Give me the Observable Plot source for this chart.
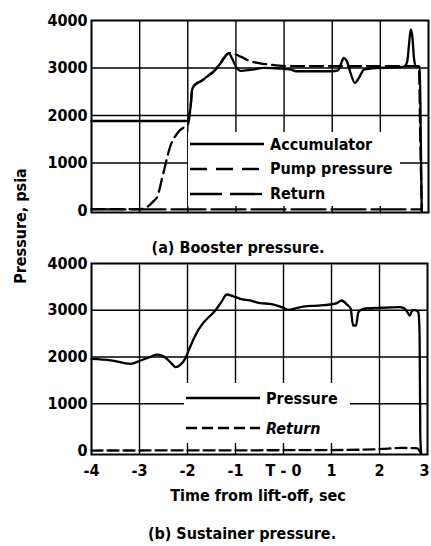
<!DOCTYPE html>
<html>
<head>
<meta charset="utf-8">
<script src="https://cdn.jsdelivr.net/npm/d3@7"></script>
<script src="https://cdn.jsdelivr.net/npm/@observablehq/plot@0.6"></script>
<style>
  body { margin: 0; background: #fff; }
  #wrap { position: relative; width: 431px; height: 546px; overflow: hidden;
    font-family: "Liberation Sans Narrow", "DejaVu Sans Condensed", "Liberation Sans", sans-serif; color: #000; font-weight: bold; }
  .abs { position: absolute; white-space: nowrap; }
  .cap { font-size: 16px; transform: translate(-50%, -50%); }
  .ylab { font-size: 16px; transform: translate(-50%, -50%) rotate(-90deg); }
  .legend { background: #fff; }
  .legend .row { display: flex; align-items: center; font-size: 16px; white-space: nowrap; }
  .legend svg { display: block; margin-right: 6px; flex: none; }
</style>
</head>
<body>
<div id="wrap"></div>
<script>
// ---------- data ----------
const secTicks = [-4, -3, -2, -1, 0, 1, 2, 3];
const secTickLabels = ["-4", "-3", "-2", "-1", "T - 0", "1", "2", "3"];
const gridSec = [-3, -2, -1, 0, 1, 2];
const psiTicks = [0, 1000, 2000, 3000, 4000];
const gridPsi = [1000, 2000, 3000];

// (a) Booster pressure
const boosterAccT = [-4, -2.04, -2.0, -1.97, -1.94, -1.91, -1.85, -1.73, -1.6, -1.46, -1.32, -1.22, -1.15, -1.08, -1.0, -0.9, -0.7, -0.42, -0.1, 0.14, 0.25, 0.6, 1.0, 1.12, 1.18, 1.24, 1.3, 1.38, 1.47, 1.56, 1.66, 1.9, 2.2, 2.5, 2.56, 2.6, 2.63, 2.66, 2.7, 2.74, 2.82, 2.84, 2.86];
const boosterAccP = [1885, 1885, 1900, 2000, 2200, 2540, 2650, 2720, 2820, 2930, 3100, 3250, 3315, 3200, 3030, 2940, 2960, 3002, 2990, 2967, 2932, 2932, 2932, 2950, 3080, 3211, 3150, 2900, 2687, 2800, 2967, 3000, 3010, 3030, 3150, 3550, 3805, 3700, 3200, 3040, 3030, 1500, -20];
const boosterPumpT = [-4, -3.0, -2.9, -2.8, -2.7, -2.64, -2.58, -2.53, -2.48, -2.43, -2.38, -2.32, -2.25, -2.18, -2.1, -2.01, -1.98, -1.94, -1.91, -1.85, -1.73, -1.6, -1.46, -1.32, -1.22, -1.15, -1.05, -0.9, -0.7, -0.5, -0.3, -0.1, 0.1, 0.5, 1.0, 1.5, 2.0, 2.5, 2.8, 2.83, 2.86];
const boosterPumpP = [30, 30, 40, 110, 210, 279, 480, 697, 900, 1116, 1300, 1466, 1580, 1675, 1740, 1780, 1880, 2200, 2540, 2650, 2720, 2820, 2930, 3100, 3250, 3315, 3300, 3240, 3141, 3100, 3072, 3050, 3040, 3040, 3040, 3040, 3040, 3040, 3040, 1500, 20];
const boosterReturnT = [-4, 2.83];
const boosterReturnP = [25, 25];

// (b) Sustainer pressure
const sustPressT = [-4, -3.6, -3.19, -2.98, -2.8, -2.64, -2.53, -2.43, -2.33, -2.25, -2.15, -2.05, -1.96, -1.87, -1.76, -1.66, -1.55, -1.42, -1.3, -1.18, -1.05, -0.9, -0.7, -0.49, -0.28, -0.1, 0.0, 0.1, 0.25, 0.41, 0.7, 0.97, 1.11, 1.21, 1.32, 1.40, 1.45, 1.51, 1.56, 1.66, 2.01, 2.42, 2.5, 2.56, 2.63, 2.69, 2.77, 2.81, 2.835, 2.85, 2.87];
const sustPressP = [1961, 1930, 1854, 1925, 1990, 2053, 2030, 1961, 1860, 1782, 1830, 1961, 2180, 2389, 2600, 2745, 2860, 2995, 3170, 3337, 3300, 3245, 3209, 3151, 3138, 3090, 3052, 3009, 3040, 3080, 3100, 3123, 3151, 3209, 3123, 3031, 2674, 2674, 2958, 3031, 3052, 3066, 3050, 2995, 2888, 3009, 2995, 2950, 2500, 300, -70];
const sustReturnT = [-4, 1.0, 2.0, 2.47, 2.75, 2.8, 2.84, 2.87, 2.9];
const sustReturnP = [0, 10, 30, 55, 50, 40, -20, -70, -80];

// ---------- helpers ----------
const FONT = '"Liberation Sans Narrow", "DejaVu Sans Condensed", "Liberation Sans", sans-serif';
const zip = (ts, ps) => ts.map((t, i) => ({t, p: ps[i]}));
const lineOpts = (dash) => ({x: "t", y: "p", stroke: "#000", strokeWidth: 2.3, curve: "monotone-x",
  strokeDasharray: dash, strokeLinejoin: "round"});
const gridStyle = {stroke: "#000", strokeOpacity: 1, strokeWidth: 1.4};
const style = {fontFamily: FONT, fontSize: "16px", fontWeight: "bold", background: "transparent", color: "#000", overflow: "visible"};
const secLabel = d => secTickLabels[secTicks.indexOf(d)];

const wrap = document.getElementById("wrap");
function place(el, left, top) {
  el.style.position = "absolute"; el.style.left = left + "px"; el.style.top = top + "px";
  wrap.appendChild(el);
}

// ---------- (a) Booster ----------
const plotA = Plot.plot({
  width: 431, height: 230,
  marginLeft: 91, marginRight: 3, marginTop: 20, marginBottom: 18,
  style,
  x: {domain: [-4, 3], axis: null},
  y: {domain: [-40, 4000]},
  marks: [
    Plot.gridX(gridSec, gridStyle),
    Plot.gridY(gridPsi, gridStyle),
    Plot.axisY(psiTicks, {tickSize: 0, tickPadding: 4, label: null, tickFormat: d => String(d)}),
    Plot.line(zip(boosterReturnT, boosterReturnP), lineOpts("34,6")),
    Plot.line(zip(boosterPumpT, boosterPumpP), lineOpts("13,6")),
    Plot.line(zip(boosterAccT, boosterAccP), lineOpts(null)),
    Plot.frame({stroke: "#000", strokeWidth: 2})
  ]
});
place(plotA, 0, 0);

// ---------- (b) Sustainer ----------
const plotB = Plot.plot({
  width: 431, height: 296,
  marginLeft: 91, marginRight: 4, marginTop: 13, marginBottom: 92,
  style,
  x: {domain: [-4, 3]},
  y: {domain: [-85, 4000]},
  marks: [
    Plot.gridX(gridSec, gridStyle),
    Plot.gridY(gridPsi, gridStyle),
    Plot.axisY(psiTicks, {tickSize: 0, tickPadding: 4, label: null, tickFormat: d => String(d)}),
    Plot.axisX(secTicks.slice(0, -1), {tickSize: 0, tickPadding: 10, label: null, tickFormat: secLabel}),
    Plot.axisX(secTicks.slice(-1), {tickSize: 0, tickPadding: 10, label: null, tickFormat: secLabel, dx: -3}),
    Plot.line(zip(sustReturnT, sustReturnP), lineOpts("11,5")),
    Plot.line(zip(sustPressT, sustPressP), lineOpts(null)),
    Plot.frame({stroke: "#000", strokeWidth: 2})
  ]
});
place(plotB, 0, 250);

// ---------- legends ----------
function legend(items, left, top, w, h, swW) {
  const box = document.createElement("div");
  box.className = "legend";
  box.style.width = w + "px"; box.style.height = h + "px";
  box.style.display = "flex"; box.style.flexDirection = "column"; box.style.justifyContent = "space-around";
  box.style.paddingLeft = "2px"; box.style.boxSizing = "border-box";
  for (const it of items) {
    const row = document.createElement("div");
    row.className = "row";
    const svg = d3.create("svg").attr("width", swW).attr("height", 10);
    svg.append("line").attr("x1", 0).attr("x2", swW).attr("y1", 5).attr("y2", 5)
      .attr("stroke", "#000").attr("stroke-width", 2.3)
      .attr("stroke-dasharray", it.dash);
    row.appendChild(svg.node());
    const span = document.createElement("span");
    span.textContent = it.label;
    if (it.italic) span.style.fontStyle = "italic";
    row.appendChild(span);
    box.appendChild(row);
  }
  place(box, left, top);
}
legend([
  {label: "Accumulator", dash: null},
  {label: "Pump pressure", dash: "17,9"},
  {label: "Return", dash: "32,8"}
], 188, 132, 212, 74, 74);
legend([
  {label: "Pressure", dash: null},
  {label: "Return", dash: "11,5", italic: true}
], 184, 383, 166, 60, 74);

// ---------- captions / axis titles ----------
function text(str, cls, cx, cy) {
  const d = document.createElement("div");
  d.className = "abs " + cls; d.textContent = str;
  d.style.left = cx + "px"; d.style.top = cy + "px";
  wrap.appendChild(d);
}
text("(a) Booster pressure.", "cap", 238, 247);
text("Time from lift-off, sec", "cap", 258, 495);
text("(b) Sustainer pressure.", "cap", 242, 533);
text("Pressure, psia", "ylab", 20, 226);
</script>
</body>
</html>
